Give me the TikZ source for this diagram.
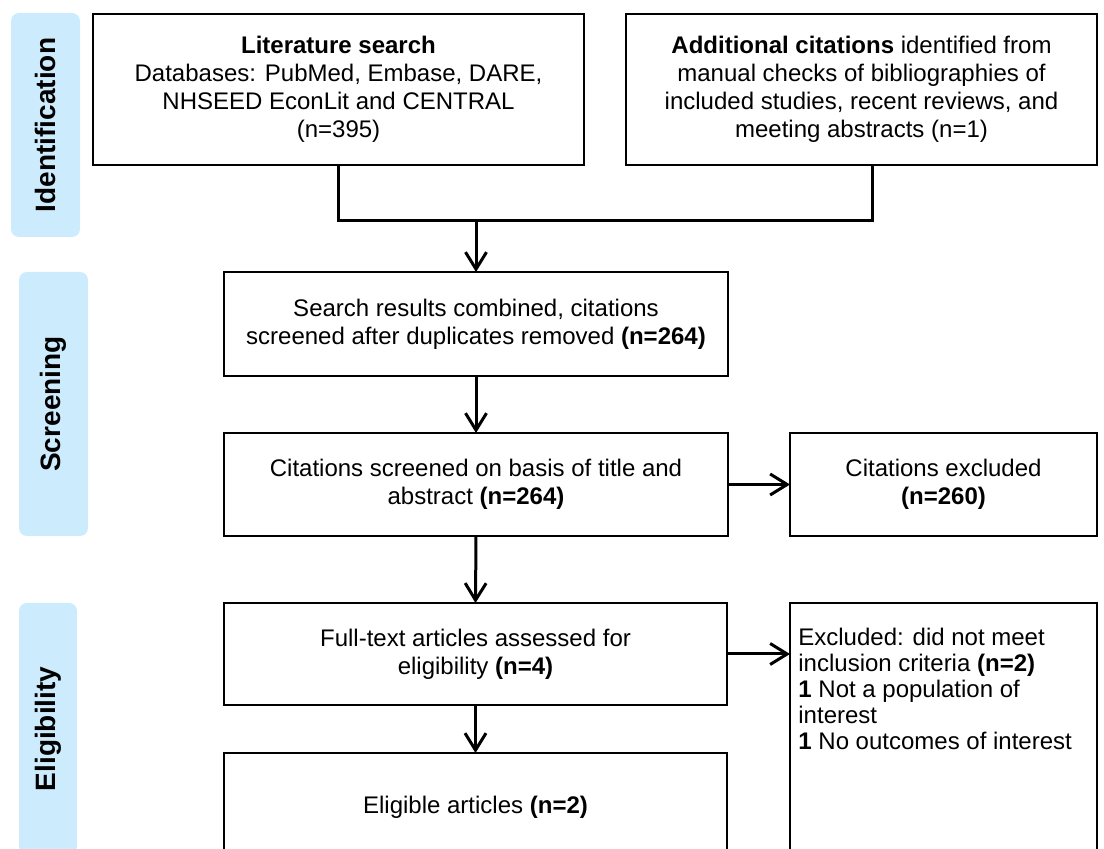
\documentclass[tikz,border=0pt]{standalone}
\usepackage{fontspec}
\setmainfont{Liberation Sans}
\usetikzlibrary{arrows.meta}
\definecolor{pill}{RGB}{204,236,254}
\begin{document}
\begin{tikzpicture}[x=0.5pt,y=-0.5pt,
  box/.style={draw=black, line width=0.9pt, inner sep=0pt, outer sep=0pt, align=center, font=\fontsize{12}{14}\selectfont},
  pillbox/.style={fill=pill, rounded corners=4pt, rotate=90, inner sep=0pt, font=\fontsize{14}{16}\selectfont\bfseries},
  conn/.style={line width=1.5pt},
  arr/.style={conn, -{Straight Barb[length=8.5pt,width=10.5pt]}}]
\useasboundingbox (0,0) rectangle (1104,849);
\clip (0,0) rectangle (1104,849);
% phase pills
\node[pillbox, minimum width=112pt, minimum height=34.5pt] (ident) at (45.5,125) {Identification};
\node[pillbox, minimum width=132pt, minimum height=34.5pt] (screen) at (53.5,404) {Screening};
\node[pillbox, minimum width=126pt, minimum height=29pt] (elig) at (48,729) {Eligibility};
% boxes
\node[box, minimum width=245.5pt, minimum height=75.5pt] (lit) at (338.5,89.5)
  {\textbf{Literature search}\\Databases: PubMed, Embase, DARE,\\NHSEED EconLit and CENTRAL\\(n=395)};
\node[box, minimum width=235.5pt, minimum height=75.5pt] (add) at (861.5,89.5)
  {\textbf{Additional citations} identified from\\manual checks of bibliographies of\\included studies, recent reviews, and\\meeting abstracts (n=1)};
\node[box, minimum width=252pt, minimum height=52pt] (search) at (476,324)
  {Search results combined, citations\\screened after duplicates removed \textbf{(n=264)}};
\node[box, minimum width=252pt, minimum height=51.5pt] (screened) at (476,484.5)
  {Citations screened on basis of title and\\abstract \textbf{(n=264)}};
\node[box, minimum width=153.5pt, minimum height=51.5pt] (citexcl) at (943.5,484.5)
  {Citations excluded\\\textbf{(n=260)}};
\node[box, minimum width=251.5pt, minimum height=51pt] (fulltext) at (475.5,654)
  {Full-text articles assessed for\\eligibility \textbf{(n=4)}};
\node[box, minimum width=251.5pt, minimum height=54pt] (eligible) at (475.5,807)
  {Eligible articles \textbf{(n=2)}};
\node[box, minimum width=153.5pt, minimum height=129pt] (excl) at (943.5,732) {};
\node[anchor=north west, inner sep=0pt, align=left, font=\fontsize{12}{13}\selectfont,
  xshift=4pt, yshift=-12.5pt] (excltxt) at (excl.north west)
  {Excluded: did not meet\\inclusion criteria \textbf{(n=2)}\\\textbf{1} Not a population of\\interest\\\textbf{1} No outcomes of interest};
% connectors
\coordinate (j) at (476,221);
\draw[conn] (lit.south) |- (j) -| ([xshift=5.25pt]add.south);
\draw[arr] (j) -- (search.north);
\draw[arr] (search.south) -- (screened.north);
\draw[arr] (screened.east) -- (citexcl.west);
\draw[arr] (screened.south) -- (fulltext.north);
\draw[arr] (fulltext.east) -- (fulltext.east -| excl.west);
\draw[arr] (fulltext.south) -- (eligible.north);
\end{tikzpicture}
\end{document}
